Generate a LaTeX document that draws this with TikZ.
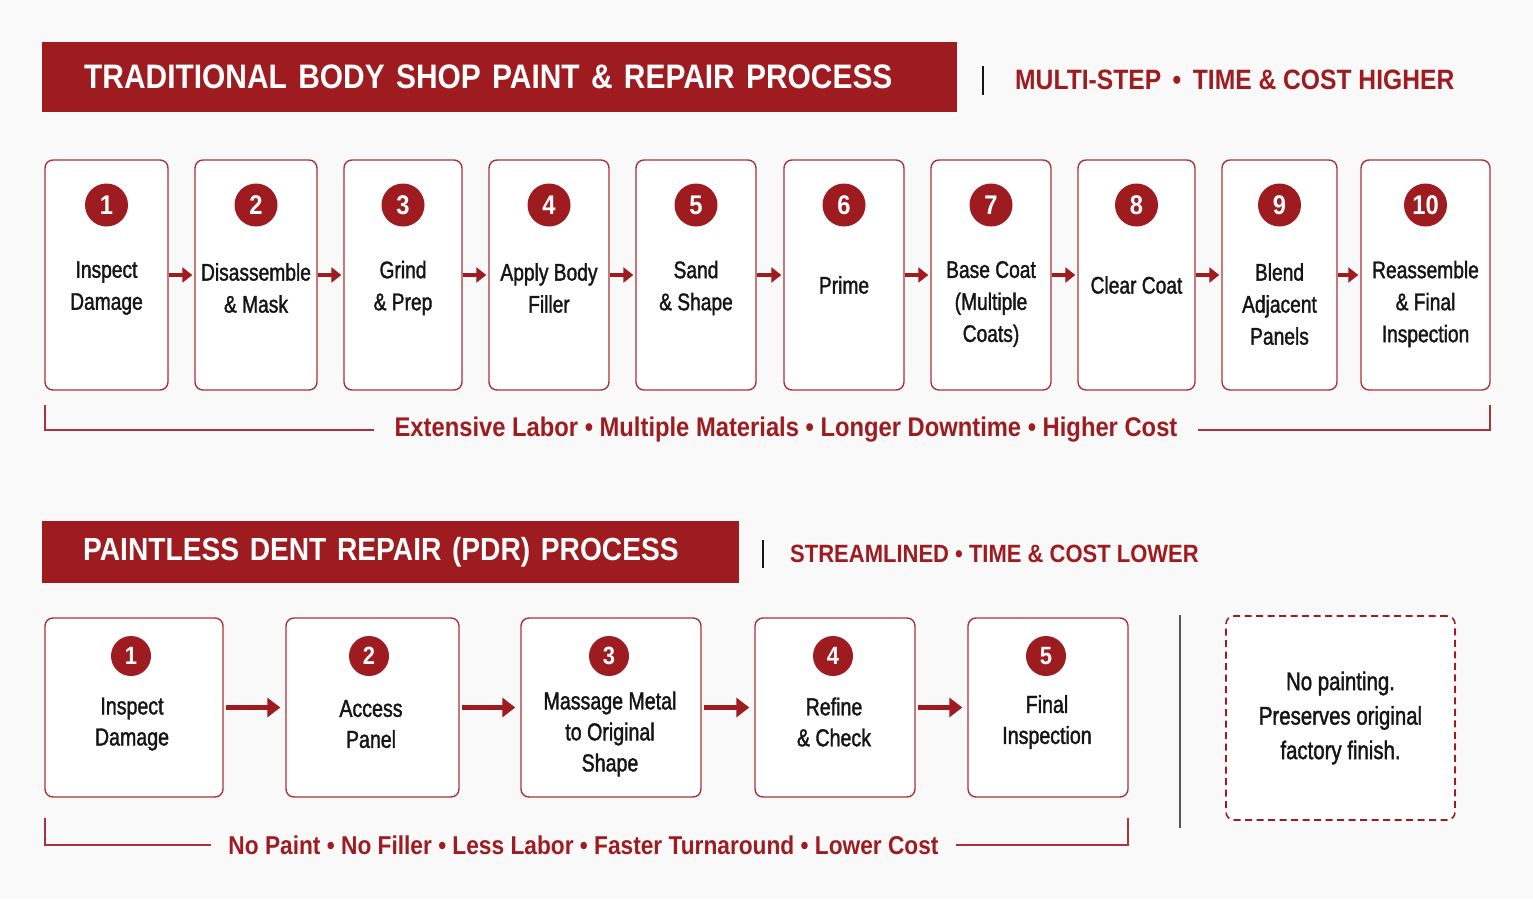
\documentclass[tikz,border=0pt]{standalone}
\usepackage{fontspec}
\setmainfont{Liberation Sans}[FakeStretch=0.88]
\newfontfamily\medfont{Liberation Sans}[FakeStretch=0.8,FakeBold=1.5]
\usetikzlibrary{positioning,arrows.meta}
\definecolor{bg}{HTML}{F9F9F9}
\definecolor{brand}{HTML}{9E1B20}
\definecolor{edge}{HTML}{A8333A}
\definecolor{ink}{HTML}{151515}
\definecolor{rule}{HTML}{555555}

\begin{document}
\begin{tikzpicture}[x=1pt,y=-1pt,
  bar/.style={anchor=west,fill=brand,text=white,align=left,font=\bfseries\fontsize{34}{34}\selectfont},
  tag/.style={anchor=west,text=brand,inner sep=0pt,font=\bfseries\fontsize{28}{28}\selectfont},
  box/.style={draw=edge,fill=white,line width=1.4pt,rounded corners=8pt,inner sep=0pt},
  num/.style={circle,fill=brand,text=white,minimum size=43pt,inner sep=0pt,font=\bfseries\fontsize{27}{27}\selectfont},
  lbl/.style={text=ink,align=center,inner sep=0pt,font=\medfont\fontsize{24}{32}\selectfont},
  note/.style={text=brand,inner xsep=20pt,inner ysep=0pt,font=\bfseries\fontsize{27}{27}\selectfont},
  brk/.style={draw=edge,line width=1.4pt},
  arrs/.style={brand,line width=4.5pt,shorten >=2pt,-{Triangle[length=10pt,width=15pt]}},
  arrl/.style={brand,line width=5pt,shorten <=2pt,shorten >=5pt,-{Triangle[length=13pt,width=19pt]}}]
\fill[bg] (0,0) rectangle (1533,899);

% traditional process
\node[bar,text width=831pt,inner xsep=42pt,minimum height=70pt] (head1) at (42,77) {TRADITIONAL BODY SHOP PAINT \& REPAIR PROCESS};
\draw[ink,line width=1.5pt] (983,66)--(983,95);
\node[tag] (tag1) at (1015,80) {MULTI-STEP \,•\, TIME \& COST HIGHER};

\node[box,minimum width=123pt,minimum height=230pt] (t1) at (106.5,275) {};
\node[box,minimum width=122pt,minimum height=230pt] (t2) at (256,275) {};
\node[box,minimum width=118pt,minimum height=230pt] (t3) at (403,275) {};
\node[box,minimum width=120pt,minimum height=230pt] (t4) at (549,275) {};
\node[box,minimum width=120pt,minimum height=230pt] (t5) at (696,275) {};
\node[box,minimum width=120pt,minimum height=230pt] (t6) at (844,275) {};
\node[box,minimum width=120pt,minimum height=230pt] (t7) at (991,275) {};
\node[box,minimum width=117pt,minimum height=230pt] (t8) at (1136.5,275) {};
\node[box,minimum width=115pt,minimum height=230pt] (t9) at (1279.5,275) {};
\node[box,minimum width=129pt,minimum height=230pt] (t10) at (1425.5,275) {};

\node[num] (tn1) at (106.5,205) {1};
\node[num] (tn2) at (256,205) {2};
\node[num] (tn3) at (403,205) {3};
\node[num] (tn4) at (549,205) {4};
\node[num] (tn5) at (696,205) {5};
\node[num] (tn6) at (844,205) {6};
\node[num] (tn7) at (991,205) {7};
\node[num] (tn8) at (1136.5,205) {8};
\node[num] (tn9) at (1279.5,205) {9};
\node[num] (tn10) at (1425.5,205) {10};

\node[lbl] (tl1) at (106.5,288) {Inspect\\Damage};
\node[lbl] (tl2) at (256,288) {Disassemble\\\& Mask};
\node[lbl] (tl3) at (403,288) {Grind\\\& Prep};
\node[lbl] (tl4) at (549,288) {Apply Body\\Filler};
\node[lbl] (tl5) at (696,288) {Sand\\\& Shape};
\node[lbl] (tl6) at (844,285) {Prime};
\node[lbl] (tl7) at (991,304) {Base Coat\\(Multiple\\Coats)};
\node[lbl] (tl8) at (1136.5,285) {Clear Coat};
\node[lbl] (tl9) at (1279.5,304) {Blend\\Adjacent\\Panels};
\node[lbl] (tl10) at (1425.5,304) {Reassemble\\\& Final\\Inspection};

\draw[arrs] (t1.east)--(t2.west);
\draw[arrs] (t2.east)--(t3.west);
\draw[arrs] (t3.east)--(t4.west);
\draw[arrs] (t4.east)--(t5.west);
\draw[arrs] (t5.east)--(t6.west);
\draw[arrs] (t6.east)--(t7.west);
\draw[arrs] (t7.east)--(t8.west);
\draw[arrs] (t8.east)--(t9.west);
\draw[arrs] (t9.east)--(t10.west);

\node[note] (sum1) at (786,430) {Extensive Labor • Multiple Materials • Longer Downtime • Higher Cost};
\draw[brk] (45,405) |- (sum1.west);
\draw[brk] (1490,405) |- (sum1.east);

% pdr process
\node[bar,text width=615pt,inner xsep=41pt,minimum height=62pt,font=\bfseries\fontsize{32}{32}\selectfont] (head2) at (42,552) {PAINTLESS DENT REPAIR (PDR) PROCESS};
\draw[ink,line width=1.5pt] (763,540)--(763,568);
\node[tag,font=\bfseries\fontsize{25}{25}\selectfont] (tag2) at (790,554) {STREAMLINED • TIME \& COST LOWER};

\node[box,minimum width=178pt,minimum height=179pt] (p1) at (134,707.5) {};
\node[box,minimum width=173pt,minimum height=179pt] (p2) at (372.5,707.5) {};
\node[box,minimum width=180pt,minimum height=179pt] (p3) at (611,707.5) {};
\node[box,minimum width=160pt,minimum height=179pt] (p4) at (835,707.5) {};
\node[box,minimum width=160pt,minimum height=179pt] (p5) at (1048,707.5) {};

\node[num,minimum size=40pt,font=\bfseries\fontsize{25}{25}\selectfont] (pn1) at (131,656) {1};
\node[num,minimum size=40pt,font=\bfseries\fontsize{25}{25}\selectfont] (pn2) at (369,656) {2};
\node[num,minimum size=40pt,font=\bfseries\fontsize{25}{25}\selectfont] (pn3) at (609,656) {3};
\node[num,minimum size=40pt,font=\bfseries\fontsize{25}{25}\selectfont] (pn4) at (833,656) {4};
\node[num,minimum size=40pt,font=\bfseries\fontsize{25}{25}\selectfont] (pn5) at (1046,656) {5};

\node[lbl,font=\medfont\fontsize{24.5}{31}\selectfont] (pl1) at (132,724) {Inspect\\Damage};
\node[lbl,font=\medfont\fontsize{24.5}{31}\selectfont] (pl2) at (371,724) {Access\\Panel};
\node[lbl,font=\medfont\fontsize{24.5}{31}\selectfont] (pl3) at (610,734) {Massage Metal\\to Original\\Shape};
\node[lbl,font=\medfont\fontsize{24.5}{31}\selectfont] (pl4) at (834,722) {Refine\\\& Check};
\node[lbl,font=\medfont\fontsize{24.5}{31}\selectfont] (pl5) at (1047,722) {Final\\Inspection};

\draw[arrl] (p1.east)--(p2.west);
\draw[arrl] (p2.east)--(p3.west);
\draw[arrl] (p3.east)--(p4.west);
\draw[arrl] (p4.east)--(p5.west);

\draw[rule,line width=1.5pt] (1180,615)--(1180,828);
\node[box,draw=brand,line width=1.6pt,dash pattern=on 7pt off 4.5pt,minimum width=229pt,minimum height=204pt,align=center,text=ink,font=\medfont\fontsize{25.5}{34.5}\selectfont] (gain) at (1340.5,718) {No painting.\\Preserves original\\factory finish.};

\node[note,inner xsep=17pt,font=\bfseries\fontsize{25.8}{26}\selectfont] (sum2) at (583.5,845) {No Paint • No Filler • Less Labor • Faster Turnaround • Lower Cost};
\draw[brk] (45,818) |- (sum2.west);
\draw[brk] (1128,818) |- (sum2.east);
\end{tikzpicture}
\end{document}
